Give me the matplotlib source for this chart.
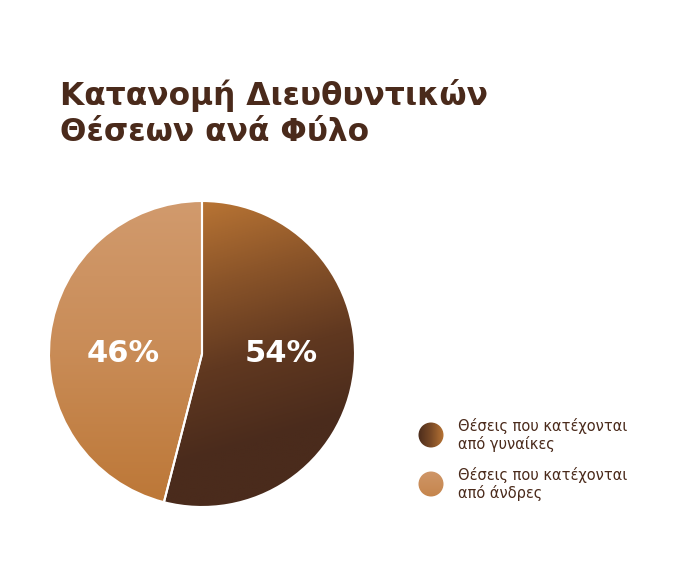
import matplotlib.pyplot as plt
import numpy as np
from matplotlib.colors import LinearSegmentedColormap
from matplotlib.patches import Circle

plt.rcParams['font.family'] = ['DejaVu Sans']

# データ
labels = ['Θέσεις που κατέχονται\nαπό γυναίκες', 'Θέσεις που κατέχονται\nαπό άνδρες']
values = [54, 46]
title = 'Κατανομή Διευθυντικών\nΘέσεων ανά Φύλο'

TEXT = '#4a2a1b'
# グラデーション: 色と始点・終点 (パイ座標)
grads = [
    ['#b87434', '#8a5429', '#603820', '#4a2b1c'],
    ['#d19a6d', '#c98c57', '#bd7838'],
]
grad_pts = [((0.0, 1.0), (0.45, -0.55)), ((-0.2, 1.0), (-0.2, -0.95))]


def gradient_img(p0, p1, extent, n=300):
    x0, x1, y0, y1 = extent
    y, x = np.mgrid[y1:y0:n * 1j, x0:x1:n * 1j]
    d = np.array(p1) - np.array(p0)
    t = ((x - p0[0]) * d[0] + (y - p0[1]) * d[1]) / (d @ d)
    return np.clip(t, 0, 1)


fig = plt.figure(figsize=(6.83, 5.80), dpi=100)
fig.patch.set_facecolor('white')

fig.text(60 / 683, 1 - 113 / 580, title, fontsize=22.5, fontweight='bold',
         color=TEXT, va='center', ha='left', linespacing=1.3)

# パイ
ax = fig.add_axes([(202 - 160) / 683, 1 - (354 + 160) / 580, 320 / 683, 320 / 580])
wedges, _ = ax.pie(values, startangle=90, counterclock=False, radius=1,
                   wedgeprops=dict(edgecolor='white', linewidth=1.5))
ax.set_xlim(-160 / 153, 160 / 153)
ax.set_ylim(-160 / 153, 160 / 153)
ax.set_aspect('equal')

ext = [-1, 1, -1, 1]
for w, stops, (p0, p1) in zip(wedges, grads, grad_pts):
    cmap = LinearSegmentedColormap.from_list('g', stops)
    w.set_facecolor('none')
    t = gradient_img(p0, p1, ext)
    im = ax.imshow(t, cmap=cmap, extent=ext, origin='upper', vmin=0, vmax=1,
                   zorder=0.5, interpolation='bilinear')
    im.set_clip_path(w)
    w.set_zorder(1)

# ラベル (中心の高さに横並び)
theta0 = 90
for v in values:
    mid = np.deg2rad(theta0 - v * 3.6 / 2)
    theta0 -= v * 3.6
    ax.text(0.52 * np.cos(mid), 0, f'{v}%', color='white',
            fontsize=22, fontweight='bold', ha='center', va='center', zorder=3)

# 凡例
lax = fig.add_axes([0, 0, 1, 1])
lax.axis('off')
legend_grads = [['#4b2c1c', '#7a4a26', '#b87434'], ['#cf9668', '#c5854c']]
legend_pts = [((-1, 0), (1, 0)), ((0, 1), (0, -1))]
legend_y = [435, 484]
for lab, gstops, yy, (p0, p1) in zip(labels, legend_grads, legend_y, legend_pts):
    c = Circle((431, yy), 12.5, facecolor='none', edgecolor='none')
    lax.add_patch(c)
    cmap = LinearSegmentedColormap.from_list('lg', gstops)
    t = gradient_img(p0, p1, [-1, 1, -1, 1])
    im = lax.imshow(t, cmap=cmap, extent=[418, 444, yy + 13, yy - 13],
                    origin='upper', interpolation='bilinear')
    im.set_clip_path(c)
    lax.text(458, yy, lab, fontsize=10.5, color=TEXT, va='center', ha='left',
             linespacing=1.2)
lax.set_xlim(0, 683)
lax.set_ylim(580, 0)

fig.savefig('out.png', dpi=100, facecolor='white')
